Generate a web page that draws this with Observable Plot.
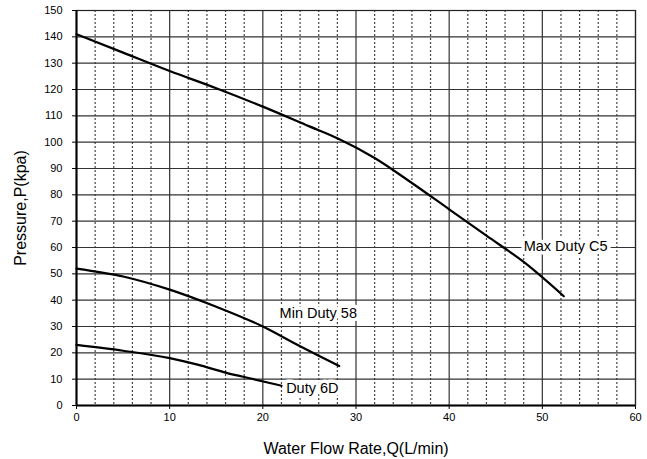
<!DOCTYPE html>
<html>
<head>
<meta charset="utf-8">
<script src="https://cdn.jsdelivr.net/npm/d3@7"></script>
<script src="https://cdn.jsdelivr.net/npm/@observablehq/plot@0.6"></script>
<style>
  html, body { margin: 0; padding: 0; background: #fff; }
  svg { font-family: "Liberation Sans", Arial, sans-serif; }
</style>
</head>
<body>
<div id="chart"></div>
<script>
// Curve data (flow L/min, pressure kPa)
const maxDutyQ = [0, 5, 10, 15, 20, 25, 28, 32, 36, 40, 44, 48, 52.3];
const maxDutyP = [141, 134, 127, 120.5, 113.5, 106, 101.5, 94, 84.5, 74.5, 64.5, 54.5, 41.5];
const minDutyQ = [0, 5, 10, 15, 20, 24, 28.2];
const minDutyP = [52, 49, 44, 37.5, 30, 22.5, 15];
const duty6Q = [0, 5, 10, 13, 16, 19, 22];
const duty6P = [23, 20.8, 18, 15.5, 12.5, 10, 7.5];

const seriesNames = ["Max Duty C5", "Min Duty 58", "Duty 6D"];
const labelQ = [48.0, 21.8, 22.5];
const labelP = [60.5, 35, 6.5];

const xTicks = [0, 10, 20, 30, 40, 50, 60];
const yTicks = [0, 10, 20, 30, 40, 50, 60, 70, 80, 90, 100, 110, 120, 130, 140, 150];
const xMinor = [2, 4, 6, 8, 12, 14, 16, 18, 22, 24, 26, 28, 32, 34, 36, 38, 42, 44, 46, 48, 52, 54, 56, 58];

const lines = [];
[[maxDutyQ, maxDutyP, seriesNames[0]], [minDutyQ, minDutyP, seriesNames[1]], [duty6Q, duty6P, seriesNames[2]]]
  .forEach(([q, p, name]) => q.forEach((v, i) => lines.push({ q: v, p: p[i], name })));
const labels = seriesNames.map((name, i) => ({ name, q: labelQ[i], p: labelP[i] }));

const chart = Plot.plot({
  width: 647,
  height: 459,
  marginLeft: 76,
  marginRight: 12,
  marginTop: 10,
  marginBottom: 54,
  style: { fontFamily: "Liberation Sans, Arial, sans-serif", fontSize: "11px", color: "#000" },
  x: { domain: [0, 60], ticks: xTicks, tickSize: 4, tickPadding: 4, label: "Water Flow Rate,Q(L/min)", labelAnchor: "center", labelOffset: 48, labelArrow: "none" },
  y: { domain: [0, 150], ticks: yTicks, tickSize: 4, tickPadding: 10, label: "Pressure,P(kpa)", labelAnchor: "center", labelOffset: 62, labelArrow: "none" },
  marks: [
    Plot.ruleX(xMinor, { stroke: "#444", strokeWidth: 1.2, strokeDasharray: "2,2" }),
    Plot.ruleX(xTicks, { stroke: "#333", strokeWidth: 1.2 }),
    Plot.ruleY(yTicks, { stroke: "#333", strokeWidth: 1.2 }),
    Plot.frame({ stroke: "#222", strokeWidth: 1.2 }),
    Plot.ruleX([0], { stroke: "#000", strokeWidth: 2 }),
    Plot.ruleY([0], { stroke: "#000", strokeWidth: 2 }),
    Plot.line(lines, { x: "q", y: "p", z: "name", stroke: "#000", strokeWidth: 2.2, curve: "monotone-x" }),
    Plot.text(labels, { x: "q", y: "p", text: "name", textAnchor: "start", fontSize: 14.5, fill: "#000", stroke: "white", strokeWidth: 7 })
  ]
});
chart.querySelectorAll('[aria-label="x-axis label"] text, [aria-label="y-axis label"] text').forEach(t => { t.style.fontSize = "16px"; });
document.getElementById("chart").appendChild(chart);
</script>
</body>
</html>
